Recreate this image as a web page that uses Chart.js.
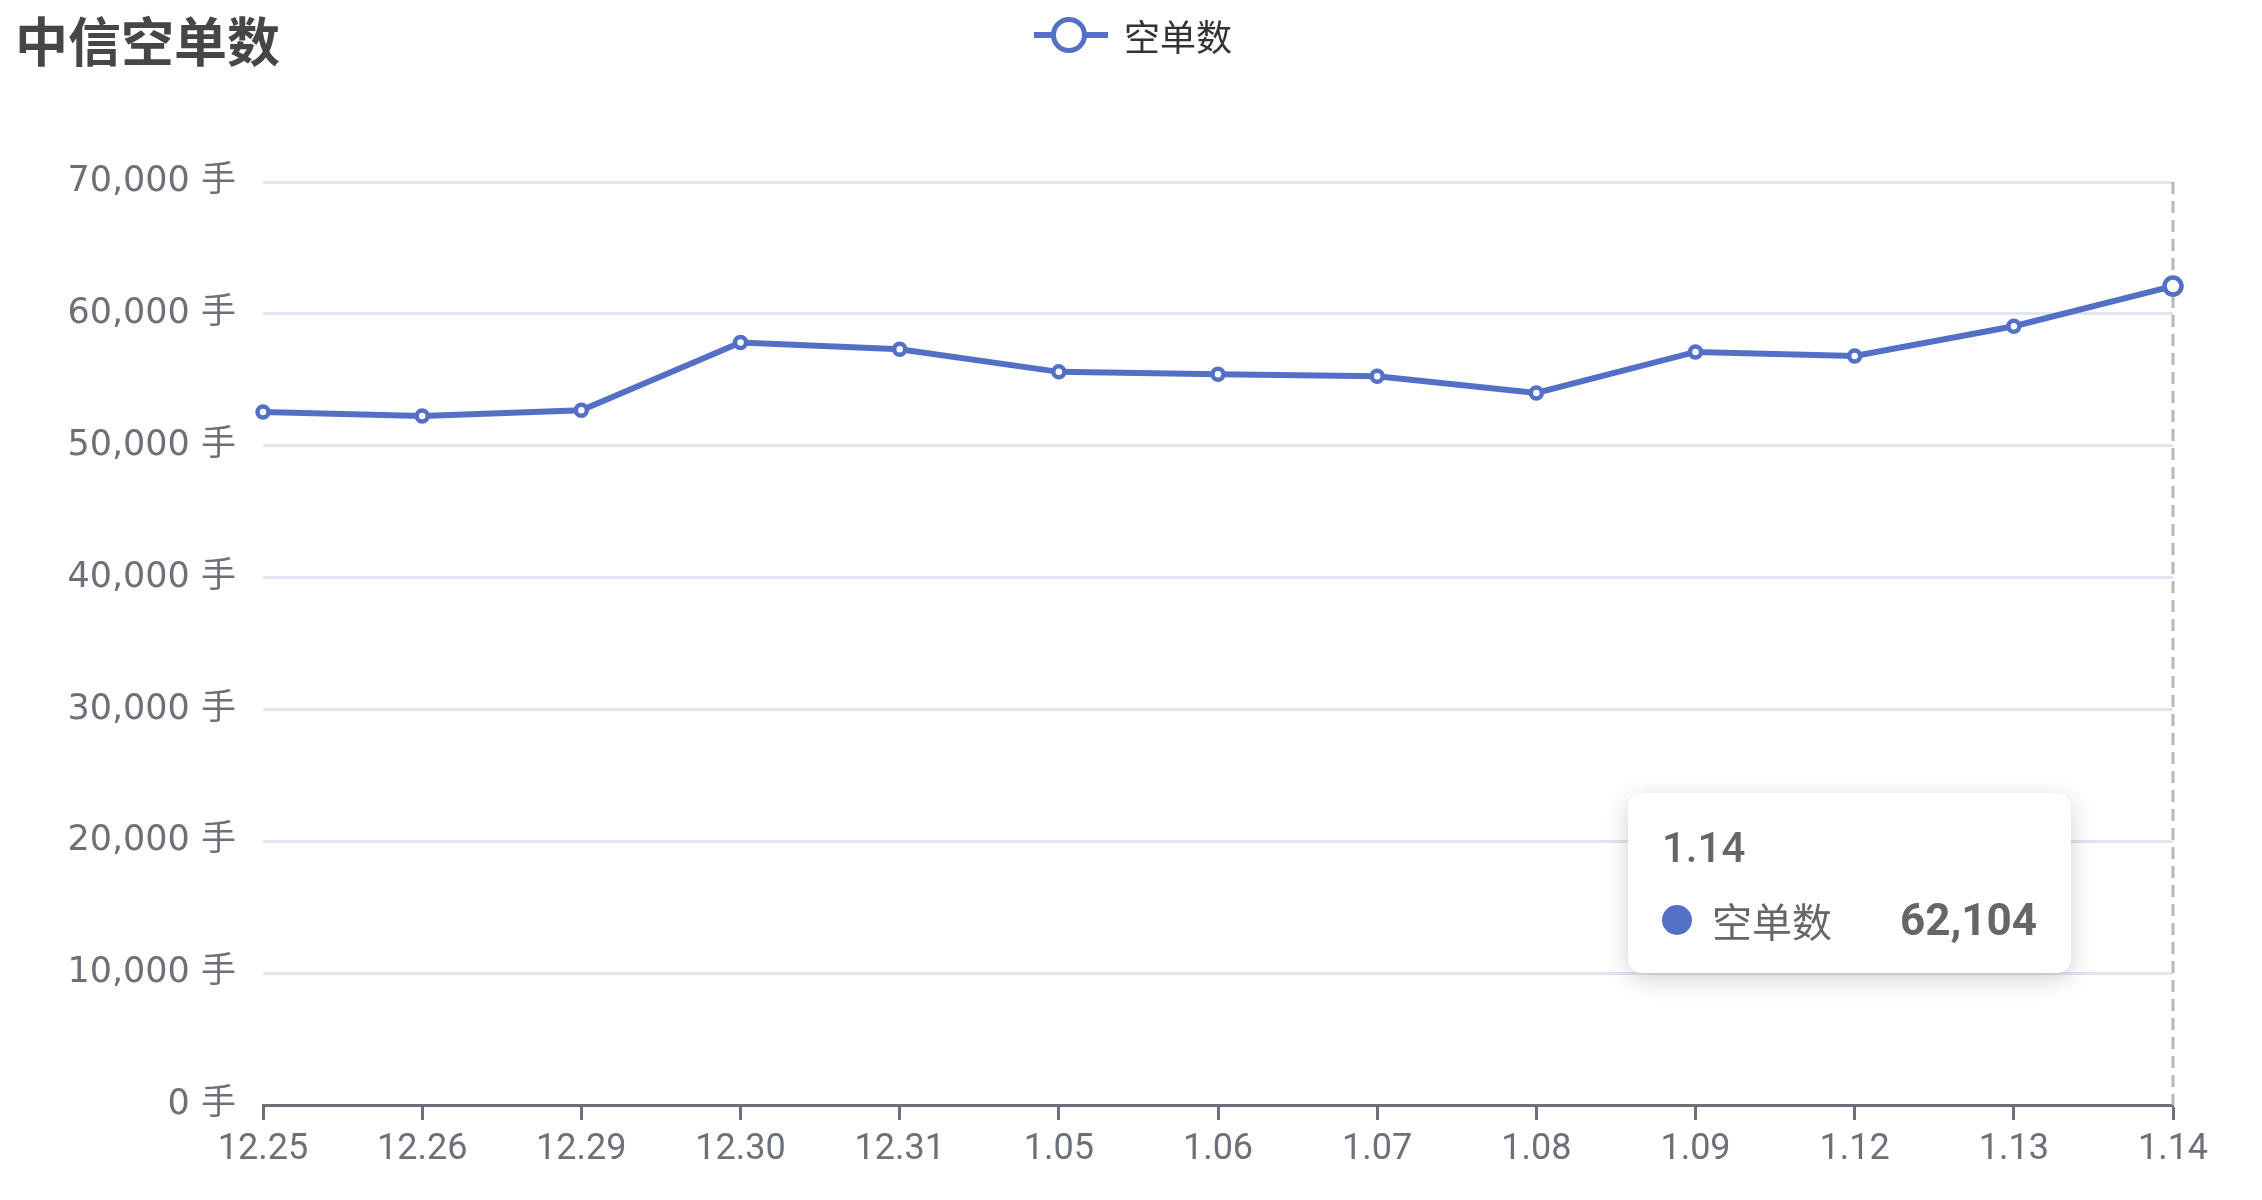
<!DOCTYPE html>
<html>
<head>
<meta charset="utf-8">
<script src="https://cdn.jsdelivr.net/npm/chart.js@4.4.1/dist/chart.umd.min.js"></script>
<style>
  html, body { margin: 0; padding: 0; background: #fff; }
  #wrap { position: relative; width: 2262px; height: 1200px; overflow: hidden; }
  canvas { display: block; }
  .title {
    position: absolute; left: 15px; top: 13px;
    font: bold 53px "Noto Sans CJK SC", sans-serif; line-height: 1; color: #464646;
  }
  .legend {
    position: absolute; left: 1034px; top: 0; height: 70px;
    display: flex; align-items: center;
    font: 36px "Noto Sans CJK SC", sans-serif; color: #333;
  }
  .legend svg { margin-right: 16px; }
  .tip {
    position: absolute; display: none; box-sizing: border-box;
    width: 443px; padding: 30px 34px 28px 34px;
    background: #fff; border-radius: 14px;
    box-shadow: 0 6px 24px rgba(0, 0, 0, 0.18);
    font-family: Roboto, "Noto Sans CJK SC", sans-serif; color: #666;
  }
  .tip-title { font-size: 42px; line-height: 50px; font-weight: 500; }
  .tip-row { display: flex; align-items: center; margin-top: 22px; height: 50px; font-size: 40px; }
  .tip-dot { width: 30px; height: 30px; border-radius: 50%; margin-right: 20px; }
  .tip-name { font-family: "Noto Sans CJK SC", sans-serif; }
  .tip-value { margin-left: auto; font-weight: bold; font-size: 44px; }
</style>
</head>
<body>
<div id="wrap">
  <canvas id="shortChart" width="2262" height="1200"></canvas>
  <div class="title">中信空单数</div>
  <div class="legend" id="legend"></div>
  <div class="tip" id="tip">
    <div class="tip-title"></div>
    <div class="tip-row">
      <span class="tip-dot"></span>
      <span class="tip-name"></span>
      <span class="tip-value"></span>
    </div>
  </div>
</div>
<script>
const dates = ["12.25", "12.26", "12.29", "12.30", "12.31", "1.05", "1.06", "1.07", "1.08", "1.09", "1.12", "1.13", "1.14"];
const shortPositions = [52560, 52260, 52690, 57820, 57320, 55600, 55420, 55270, 54000, 57110, 56810, 59060, 62104];
const seriesName = "空单数";
const yMax = 70000;
const yStep = 10000;
const activeIndex = 12;

const lineColor = "#5470c6";
const axisColor = "#6e7079";

// legend: line with hollow circle, then the series name
document.getElementById("legend").innerHTML =
  '<svg width="74" height="40"><line x1="0" y1="20" x2="74" y2="20" stroke="' + lineColor +
  '" stroke-width="6"/><circle cx="35" cy="20" r="15.5" fill="#fff" stroke="' + lineColor +
  '" stroke-width="5"/></svg><span>' + seriesName + "</span>";

const pointerLine = {
  id: "pointerLine",
  beforeDatasetsDraw(chart) {
    const active = chart.getActiveElements();
    if (!active.length) return;
    const x = active[0].element.x;
    const { top, bottom } = chart.chartArea;
    const ctx = chart.ctx;
    ctx.save();
    ctx.strokeStyle = "#b8b8b8";
    ctx.lineWidth = 3;
    ctx.setLineDash([12, 7]);
    ctx.beginPath();
    ctx.moveTo(x, top);
    ctx.lineTo(x, bottom);
    ctx.stroke();
    ctx.restore();
  },
};

const externalTooltip = (context) => {
  const { tooltip } = context;
  const el = document.getElementById("tip");
  if (tooltip.opacity === 0 || !tooltip.dataPoints) {
    el.style.display = "none";
    return;
  }
  const point = tooltip.dataPoints[0];
  el.querySelector(".tip-title").textContent = tooltip.title[0];
  el.querySelector(".tip-dot").style.background = lineColor;
  el.querySelector(".tip-name").textContent = point.dataset.label;
  el.querySelector(".tip-value").textContent = point.raw.toLocaleString("en-US");
  el.style.display = "block";
  el.style.left = tooltip.caretX - 545 + "px";
  el.style.top = tooltip.caretY + 507 + "px";
};

Chart.defaults.font.family = "Roboto, 'Noto Sans CJK SC', sans-serif";
Chart.defaults.color = axisColor;

const ctx = document.getElementById("shortChart");
const chart = new Chart(ctx, {
  type: "line",
  data: {
    labels: dates,
    datasets: [
      {
        label: seriesName,
        data: shortPositions,
        borderColor: lineColor,
        backgroundColor: lineColor,
        borderWidth: 6,
        tension: 0,
        pointRadius: 5.5,
        pointBorderWidth: 4.5,
        pointBackgroundColor: "#fff",
        pointBorderColor: lineColor,
        pointHoverRadius: 8.5,
        pointHoverBorderWidth: 4.5,
        pointHoverBackgroundColor: "#fff",
        pointHoverBorderColor: lineColor,
      },
    ],
  },
  options: {
    responsive: false,
    animation: false,
    devicePixelRatio: 1,
    events: [],
    layout: { padding: { top: 182, right: 89, bottom: 0, left: 0 } },
    plugins: {
      legend: { display: false },
      title: { display: false },
      tooltip: { enabled: false, external: externalTooltip, mode: "index", intersect: false },
    },
    scales: {
      x: {
        offset: false,
        afterFit: (scale) => { scale.height = 95; },
        grid: {
          display: true,
          drawOnChartArea: false,
          drawTicks: true,
          tickLength: 15,
          tickColor: axisColor,
          tickWidth: 3,
        },
        border: { display: true, color: axisColor, width: 3 },
        ticks: {
          autoSkip: false,
          maxRotation: 0,
          padding: 8,
          color: axisColor,
          font: { size: 36 },
        },
      },
      y: {
        min: 0,
        max: yMax,
        afterFit: (scale) => { scale.width = 263; },
        grid: { color: "#e0e6f1", lineWidth: 3, drawTicks: false },
        border: { display: false },
        ticks: {
          stepSize: yStep,
          padding: 27,
          color: axisColor,
          font: { size: 35, family: "'DejaVu Sans', 'Noto Sans CJK SC', sans-serif" },
          callback: (value) => value.toLocaleString("en-US") + " 手",
        },
      },
    },
  },
  plugins: [pointerLine],
});

const active = [{ datasetIndex: 0, index: activeIndex }];
chart.setActiveElements(active);
const meta = chart.getDatasetMeta(0).data[activeIndex];
chart.tooltip.setActiveElements(active, { x: meta.x, y: meta.y });
chart.update("none");
</script>
</body>
</html>
